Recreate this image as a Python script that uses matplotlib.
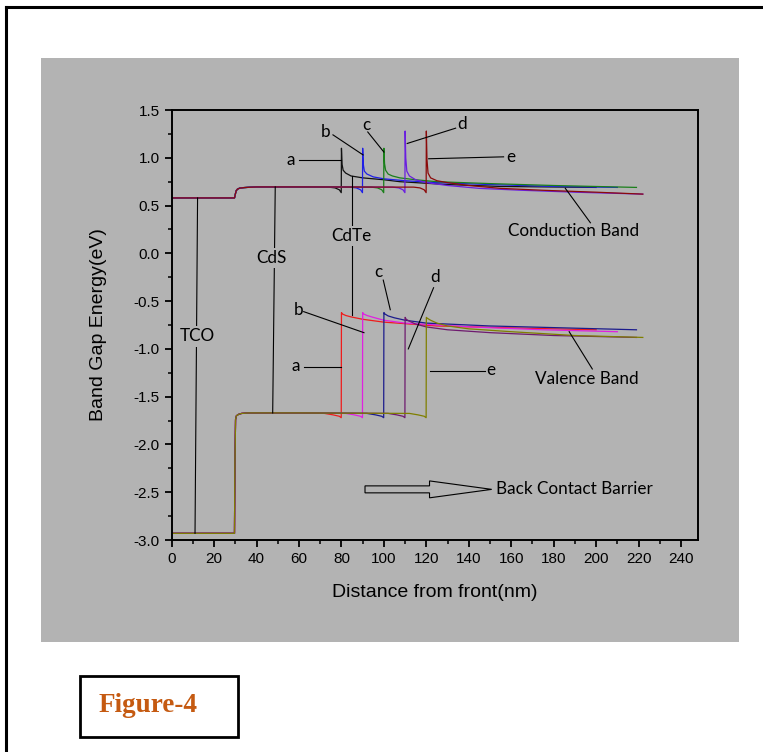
import matplotlib.pyplot as plt
import numpy as np
from matplotlib.patches import Rectangle, FancyArrow
from matplotlib.lines import Line2D

# Band edges (eV) versus distance from the front contact (nm)
# Common TCO / CdS section
cb_front_x = [0, 29.6, 30.0, 30.4, 31, 32, 34, 37, 40]
cb_front_e = [0.58, 0.58, 0.62, 0.655, 0.672, 0.682, 0.688, 0.692, 0.695]
vb_front_x = [0, 29.6, 29.8, 30.1, 30.5, 31.5, 33, 36, 40]
vb_front_e = [-2.93, -2.93, -2.2, -1.74, -1.70, -1.685, -1.675, -1.67, -1.67]

# CdTe section for each CdS/CdTe interface position (a-e)
cb_a_x = [60, 74, 77, 79, 79.9, 80.0, 80.3, 80.8, 82, 84.5, 90, 100, 107.5, 130, 155, 200]
cb_a_e = [0.695, 0.693, 0.685, 0.665, 0.635, 1.10, 0.93, 0.87, 0.84, 0.81, 0.79, 0.77, 0.75, 0.72, 0.70, 0.69]
cb_b_x = [60, 84, 87, 89, 89.9, 90.0, 90.3, 90.8, 92, 95, 100, 110, 125, 150, 180, 210]
cb_b_e = [0.695, 0.693, 0.685, 0.665, 0.635, 1.10, 0.93, 0.86, 0.83, 0.80, 0.78, 0.76, 0.74, 0.72, 0.70, 0.69]
cb_c_x = [60, 94, 97, 99, 99.9, 100.0, 100.3, 100.8, 102, 104, 107.5, 115, 125, 150, 180, 219]
cb_c_e = [0.695, 0.693, 0.685, 0.665, 0.635, 1.10, 0.94, 0.87, 0.83, 0.81, 0.79, 0.77, 0.75, 0.73, 0.71, 0.69]
cb_d_x = [60, 104, 107, 109, 109.9, 110.0, 110.3, 110.8, 112, 115, 120, 130, 145, 165, 190, 222]
cb_d_e = [0.695, 0.693, 0.685, 0.665, 0.635, 1.28, 1.00, 0.86, 0.81, 0.77, 0.74, 0.71, 0.68, 0.66, 0.64, 0.62]
cb_e_x = [60, 114, 117, 119, 119.9, 120.0, 120.3, 120.8, 122, 125, 130, 140, 155, 175, 200, 222]
cb_e_e = [0.695, 0.693, 0.685, 0.665, 0.635, 1.28, 0.98, 0.84, 0.79, 0.76, 0.74, 0.71, 0.68, 0.66, 0.64, 0.62]

vb_a_x = [60, 72, 76, 79, 79.9, 80.0, 80.5, 82, 84.5, 90, 100, 125, 160, 200]
vb_a_e = [-1.67, -1.675, -1.69, -1.705, -1.72, -0.62, -0.635, -0.65, -0.665, -0.69, -0.72, -0.76, -0.78, -0.80]
vb_b_x = [60, 82, 86, 89, 89.9, 90.0, 90.5, 92, 95, 100, 110, 141, 175, 210]
vb_b_e = [-1.67, -1.675, -1.69, -1.705, -1.72, -0.62, -0.635, -0.65, -0.67, -0.70, -0.73, -0.77, -0.80, -0.82]
vb_c_x = [60, 92, 96, 99, 99.9, 100.0, 100.5, 102, 105, 110, 120, 150, 185, 219]
vb_c_e = [-1.67, -1.675, -1.69, -1.705, -1.72, -0.62, -0.635, -0.655, -0.675, -0.70, -0.73, -0.76, -0.78, -0.80]
vb_d_x = [60, 102, 106, 109, 109.9, 110.0, 110.5, 112, 115, 120, 130, 150, 180, 219]
vb_d_e = [-1.67, -1.675, -1.69, -1.705, -1.72, -0.67, -0.69, -0.71, -0.74, -0.77, -0.80, -0.83, -0.86, -0.88]
vb_e_x = [60, 112, 116, 119, 119.9, 120.0, 120.5, 122, 125, 130, 140, 160, 190, 222]
vb_e_e = [-1.67, -1.675, -1.69, -1.705, -1.72, -0.67, -0.68, -0.70, -0.73, -0.76, -0.79, -0.82, -0.86, -0.88]

cb_curves = [(cb_a_x, cb_a_e), (cb_b_x, cb_b_e), (cb_c_x, cb_c_e), (cb_d_x, cb_d_e), (cb_e_x, cb_e_e)]
vb_curves = [(vb_a_x, vb_a_e), (vb_b_x, vb_b_e), (vb_c_x, vb_c_e), (vb_d_x, vb_d_e), (vb_e_x, vb_e_e)]
cb_colors = ["#111111", "#1f1fe6", "#1a7f1a", "#6a1ee0", "#8b0a0a"]
vb_colors = ["#ee1c1c", "#e020e0", "#1c1c8c", "#6e1a6e", "#7f7f00"]

gray = "#b3b3b3"
label_font = ["Lato", "DejaVu Sans"]
axis_font = ["Liberation Sans", "DejaVu Sans"]

fig = plt.figure(figsize=(7.63, 7.52), dpi=100)
fig.patch.set_facecolor("white")

# page frame and grey panel
fig.add_artist(Line2D([0.008, 0.008], [0, 0.991], color="black", lw=2.2, transform=fig.transFigure))
fig.add_artist(Line2D([0.008, 1.0], [0.991, 0.991], color="black", lw=2.2, transform=fig.transFigure))
fig.add_artist(Rectangle((41 / 763, 1 - 642 / 752), (739 - 41) / 763, (642 - 58) / 752,
                         transform=fig.transFigure, facecolor=gray, edgecolor="none", zorder=-5))

ax = fig.add_axes([0.225, 0.2819, 0.6898, 0.5718])
ax.set_facecolor(gray)

for (x, e), c in zip(cb_curves, cb_colors):
    ax.plot(np.concatenate([cb_front_x, x]), np.concatenate([cb_front_e, e]), color=c, lw=0.9)
for (x, e), c in zip(vb_curves, vb_colors):
    ax.plot(np.concatenate([vb_front_x, x]), np.concatenate([vb_front_e, e]), color=c, lw=0.9)

ax.set_xlim(0, 248)
ax.set_ylim(-3.0, 1.5)
ax.set_xticks(np.arange(0, 241, 20))
ax.set_xticks(np.arange(0, 248, 10), minor=True)
ax.set_yticks(np.arange(-3.0, 1.51, 0.5))
ax.set_yticks(np.arange(-3.0, 1.51, 0.25), minor=True)
ax.set_yticklabels([f"{v:.1f}" for v in np.arange(-3.0, 1.51, 0.5)])
ax.tick_params(which="major", direction="out", length=5, width=1.3, labelsize=11, top=False, right=False)
ax.tick_params(which="minor", direction="out", length=3, width=1.1, top=False, right=False)
for lab in ax.get_xticklabels() + ax.get_yticklabels():
    lab.set_family(axis_font)
for s in ax.spines.values():
    s.set_linewidth(1.4)

ax.set_xlabel("Distance from front(nm)", fontsize=14, family=axis_font, labelpad=13)
ax.set_ylabel("Band Gap Energy(eV)", fontsize=14, family=axis_font, labelpad=19)

lk = dict(color="black", lw=0.8)
tk = dict(fontsize=12.3, family=label_font, ha="center", va="center")
box = dict(facecolor=gray, edgecolor="none", pad=1.5)

# layer markers
ax.plot([12.2, 11.0], [0.58, -2.93], **lk)
ax.text(12.0, -0.87, "TCO", bbox=box, **tk)
ax.plot([48.8, 47.6], [0.695, -1.67], **lk)
ax.text(47.1, -0.05, "CdS", bbox=box, **tk)
ax.plot([84.8, 84.8], [0.81, -0.645], **lk)
ax.text(84.5, 0.18, "CdTe", bbox=box, **tk)

# conduction band labels
ax.plot([59.8, 79.7], [0.98, 0.98], **lk)
ax.text(56.1, 0.98, "a", **tk)
ax.plot([76.0, 90.2], [1.24, 1.03], **lk)
ax.text(72.7, 1.27, "b", **tk)
ax.plot([92.4, 100.0], [1.27, 1.06], **lk)
ax.text(91.6, 1.34, "c", **tk)
ax.plot([133.8, 111.0], [1.31, 1.15], **lk)
ax.text(136.6, 1.35, "d", **tk)
ax.plot([156.4, 121.1], [1.01, 0.99], **lk)
ax.text(160.0, 1.01, "e", **tk)
ax.plot([185.5, 197.3], [0.68, 0.32], **lk)
ax.text(189.5, 0.23, "Conduction Band", **tk)

# valence band labels
ax.plot([62.2, 90.6], [-0.61, -0.83], **lk)
ax.text(59.9, -0.59, "b", **tk)
ax.plot([99.7, 103.0], [-0.28, -0.59], **lk)
ax.text(97.3, -0.19, "c", **tk)
ax.plot([123.4, 111.5], [-0.36, -1.00], **lk)
ax.text(124.3, -0.25, "d", **tk)
ax.plot([62.2, 79.7], [-1.19, -1.19], **lk)
ax.text(58.4, -1.18, "a", **tk)
ax.plot([121.5, 147.5], [-1.23, -1.23], **lk)
ax.text(150.5, -1.22, "e", **tk)
ax.plot([187.3, 198.2], [-0.82, -1.21], **lk)
ax.text(195.6, -1.31, "Valence Band", **tk)

# back contact arrow
ax.add_patch(FancyArrow(91.1, -2.47, 59.7, 0, width=0.073, head_width=0.177, head_length=29.3,
                        length_includes_head=True, facecolor=gray, edgecolor="black", lw=0.8))
ax.text(153.0, -2.47, "Back Contact Barrier", fontsize=12.3, family=label_font, ha="left", va="center")

# caption box
fig.add_artist(Rectangle((80 / 763, 1 - 737 / 752), 158 / 763, 61 / 752, transform=fig.transFigure,
                         facecolor="white", edgecolor="black", lw=2))
fig.text(148 / 763, 1 - 705 / 752, "Figure-4", fontsize=19.5, fontweight="bold",
         family=["Liberation Serif", "DejaVu Serif"], color="#c55a11", ha="center", va="center")

fig.savefig("out.png", dpi=100)
